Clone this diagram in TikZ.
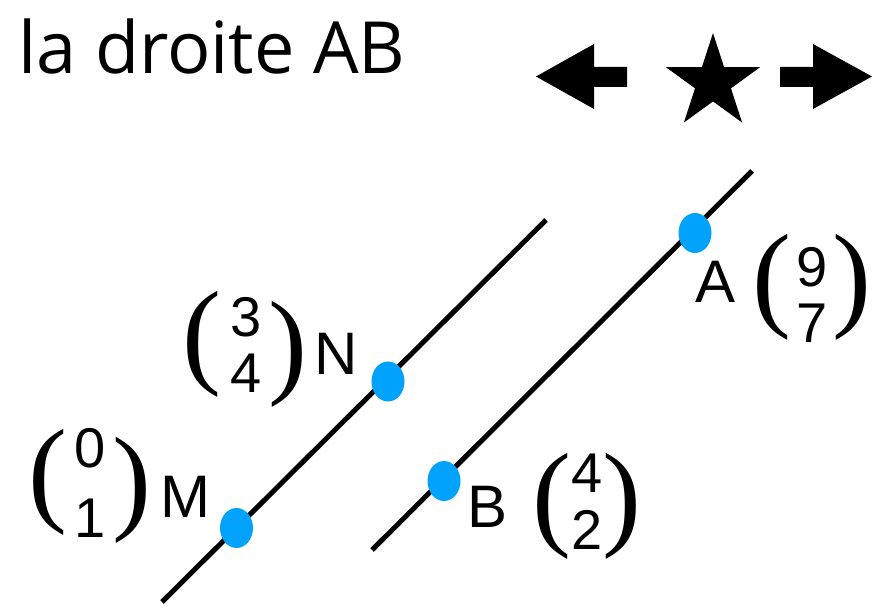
\documentclass[tikz,border=0pt]{standalone}
\usepackage{fontspec}
\usetikzlibrary{shapes.geometric}
\newfontfamily\titlefont{Open Sans}
\newfontfamily\labfont{Liberation Sans}
\newfontfamily\parfont{Liberation Serif}
\definecolor{dotblue}{RGB}{0,162,252}
\newcommand\digpair[3][0pt]{\begin{tabular}[t]{@{}c@{}}#2\\[#1]#3\end{tabular}}
\tikzset{
  ttl/.style={font=\titlefont\fontsize{72}{72}\selectfont, inner sep=0pt, anchor=base west},
  lbl/.style={font=\labfont\fontsize{60}{60}\selectfont, inner sep=0pt, anchor=base},
  dig/.style={font=\labfont\fontsize{56}{56}\selectfont, inner sep=0pt, anchor=base},
  par/.style={font=\parfont\fontsize{117}{117}\selectfont, inner sep=0pt, anchor=center},
  dot/.style={ellipse, fill=dotblue, minimum width=33pt, minimum height=40pt, inner sep=0pt},
  ln/.style={line width=5pt, black},
}
\begin{document}
\begin{tikzpicture}[x=1pt, y=-1pt]
\useasboundingbox (0,0) rectangle (879,609);
% title
\node[ttl] (title) at (18,74) {la droite AB};
% arrows and star
\fill[black] (536,76.5) -- (594,44) -- (594,67) -- (627,67) -- (627,87) -- (594,87) -- (594,109) -- cycle;
\fill[black] (872,76.5) -- (813,44) -- (813,67) -- (780,67) -- (780,87) -- (813,87) -- (813,109) -- cycle;
\fill[black] (713,33) -- (724.11,67.21) -- (760.08,67.2) -- (730.97,88.34) -- (742.1,122.55)
  -- (713,101.4) -- (683.9,122.55) -- (695.03,88.34) -- (665.92,67.2) -- (701.89,67.21) -- cycle;
% line ends
\coordinate (l1a) at (162,602);
\coordinate (l1b) at (546,220);
\coordinate (l2a) at (372,550);
\coordinate (l2b) at (752,171);
\draw[ln] (l1a) -- (l1b);
\draw[ln] (l2a) -- (l2b);
% points
\node[dot] (M) at (236.5,528) {};
\node[dot] (N) at (388,381.5) {};
\node[dot] (B) at (444,481) {};
\node[dot] (A) at (695,233) {};
% labels
\node[lbl] (labN) at (336.5,375) {N};
\node[lbl] (labM) at (185,518) {M};
\node[lbl] (labB) at (487.5,528) {B};
\node[lbl] (labA) at (716,303) {A};
% vector N
\node[par] (vNl) at (202,344) {(};
\node[par] (vNr) at (288,354) {)};
\node[dig] (vN) at (246,337) {\digpair{3}{4}};
% vector M
\node[par] (vMl) at (48,482) {(};
\node[par] (vMr) at (132,490) {)};
\node[dig] (vM) at (90,468) {\digpair[14pt]{0}{1}};
% vector B
\node[par] (vBl) at (552,506) {(};
\node[par] (vBr) at (622,506) {)};
\node[dig] (vB) at (587,493) {\digpair[1pt]{4}{2}};
% vector A
\node[par] (vAl) at (772,287) {(};
\node[par] (vAr) at (852,287) {)};
\node[dig] (vA) at (812,287) {\digpair{9}{7}};
\end{tikzpicture}
\end{document}
